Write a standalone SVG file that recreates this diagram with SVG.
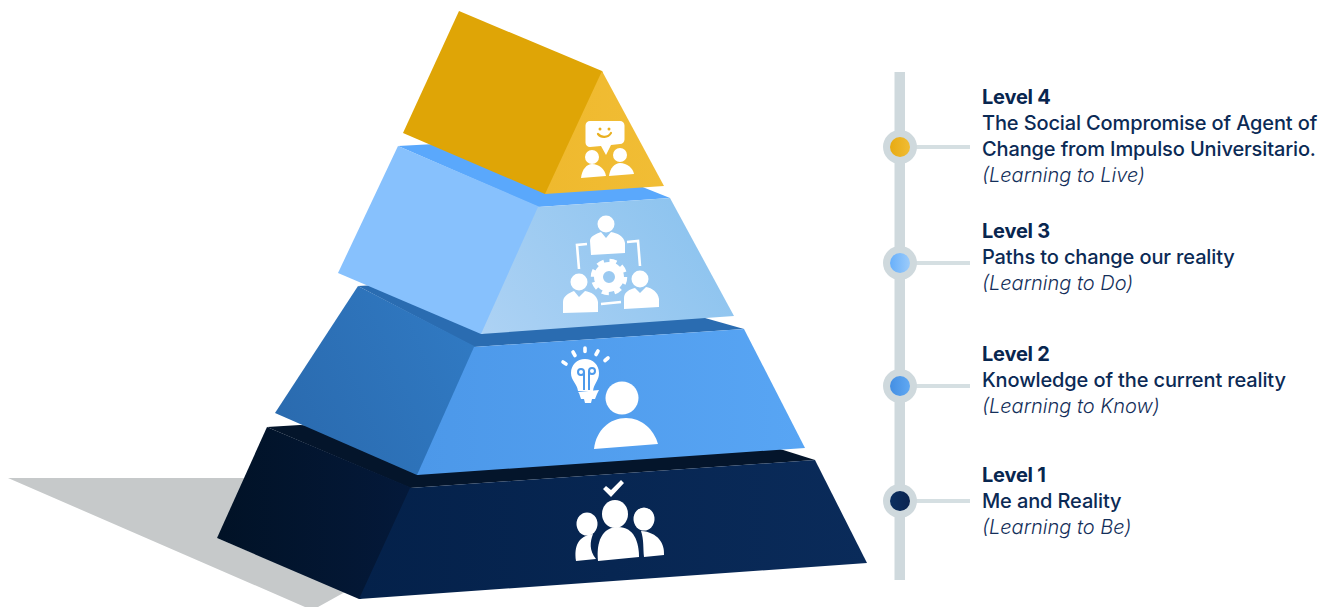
<svg xmlns="http://www.w3.org/2000/svg" width="1328" height="607" viewBox="0 0 1328 607">
<style>
.t{font-family:Inter,"Liberation Sans",sans-serif;fill:#0b2a55}
.h{font-size:20px;font-weight:700;fill:#08264f;letter-spacing:-0.2px}
.b{font-size:20px;font-weight:450;letter-spacing:-0.13px}
.i{font-size:20px;font-style:italic;font-weight:300;fill:#142f5a}
.w{fill:#fff}
.stem{stroke:#d5dfe2;stroke-width:4;fill:none}
.ring{fill:#cfd9dd}
</style>
<defs>
<linearGradient id="g4" x1="0" x2="1"><stop offset="0" stop-color="#efb92e"/><stop offset="1" stop-color="#f1bd35"/></linearGradient>
<linearGradient id="g3" x1="0" y1="1" x2="1" y2="0.6"><stop offset="0" stop-color="#add2f4"/><stop offset="1" stop-color="#8ec4ef"/></linearGradient>
<linearGradient id="g2" x1="0" x2="1"><stop offset="0" stop-color="#4c98e9"/><stop offset="1" stop-color="#58a5f4"/></linearGradient>
<linearGradient id="g2l" x1="0" y1="0.8" x2="1" y2="0.4"><stop offset="0" stop-color="#2a6aae"/><stop offset="1" stop-color="#3079c2"/></linearGradient>
<linearGradient id="g1" x1="0" x2="1"><stop offset="0" stop-color="#04214a"/><stop offset="1" stop-color="#0a2b5a"/></linearGradient>
<linearGradient id="g1l" x1="0" x2="1"><stop offset="0" stop-color="#011226"/><stop offset="1" stop-color="#04193a"/></linearGradient>
<linearGradient id="d4" x1="0" x2="1"><stop offset="0" stop-color="#e8ab12"/><stop offset="1" stop-color="#f0bc35"/></linearGradient>
<linearGradient id="d3" x1="0" x2="1"><stop offset="0" stop-color="#68b0fb"/><stop offset="1" stop-color="#9ccbfa"/></linearGradient>
<linearGradient id="d2" x1="0" x2="1"><stop offset="0" stop-color="#448fe3"/><stop offset="1" stop-color="#60a8f2"/></linearGradient>
<linearGradient id="d1" x1="0" x2="1"><stop offset="0" stop-color="#0b2f60"/><stop offset="1" stop-color="#0b2450"/></linearGradient>
</defs>
<g id="shadow"><polygon points="8,478 255,478 217,538 345,592 318,607 305,607" fill="#c6c9ca"/></g>

<g id="pyramid-level-1">
<polygon points="267,427 300,425 780,449 815,460 410,488" fill="#04152b"/>
<polygon points="267,427 412,488 361,599 359,599 217,538" fill="url(#g1l)"/>
<polygon points="410,488 815,460 867,563 359,599" fill="url(#g1)"/>
<path class="w" d="M603,489l3-3 5,4 10-10 3,3-13,14z"/>
<ellipse class="w" cx="615" cy="514" rx="13" ry="14"/>
<path class="w" d="M598,561C596,542 602,527 618,527C634,527 639,542 639,557z"/>
<ellipse class="w" cx="587" cy="524" rx="10.500" ry="11.500"/>
<path class="w" d="M576,561C574,546 578,536 593,534C590,542 589,550 596,559z"/>
<ellipse class="w" cx="644" cy="519" rx="10.500" ry="11.500"/>
<path class="w" d="M641,531C658,532 665,544 664,555L644,557C643,548 644,540 641,531z"/>
</g>

<g id="pyramid-level-2">
<polygon points="358,286 395,284 705,318 744,329 474,347" fill="#2a6cb1"/>
<polygon points="358,286 476,347 419,475 417,475 275,413" fill="url(#g2l)"/>
<polygon points="474,347 744,329 805,448 417,475" fill="url(#g2)"/>
<path class="w" d="M585,359c8,0 14,6 14,14c0,8-5,10-6,18h-15c-1-8-7-10-7-18c0-8 6-14 14-14z"/>
<path class="w" d="M578,392l21-2-2,4-2,5-3,0-1,4-6,0-1-4-3,0-2-6z"/>
<g fill="none" stroke="#4d9aeb" stroke-width="2"><circle cx="581" cy="372" r="3"/><circle cx="592" cy="371" r="3"/><path d="M584,372v18M589,371v19"/></g>
<g stroke="#fff" stroke-width="3.600" stroke-linecap="round" fill="none"><path d="M563,362l3,2M573,352l2,3.500M585,348v3.500M598,351l-2,3.500M608,358l-3,2.500"/></g>
<circle class="w" cx="622" cy="398" r="16.500"/>
<path class="w" d="M594,449C596,430 610,418 626,418C642,418 654,430 658,444z"/>
</g>

<g id="pyramid-level-3">
<polygon points="398,146 435,144 640,186 670,198 538,207" fill="#5aa8fc"/>
<polygon points="398,146 540,207 483,334 481,334 338,273" fill="#87c1fd"/>
<polygon points="538,207 670,198 734,316 481,334" fill="url(#g3)"/>
<circle class="w" cx="606" cy="224" r="8.500"/>
<path class="w" d="M591,255l-1-14c0-5 6-7 11-9l5,6 5-6c6,1 13,4 14,11l0,10z"/>
<circle class="w" cx="579" cy="282" r="8.500"/>
<path class="w" d="M563,313l0-11c0-6 6-9 11-11l5,6 6-6c6,1 12,4 13,11l0,10z"/>
<circle class="w" cx="640" cy="279" r="8.500"/>
<path class="w" d="M624,309l0-11c0-6 6-9 11-10l5,5 6-6c6,1 12,5 13,12l0,8z"/>
<path d="M587,244l-10,1 2,24M627,242l11-1 2,25M601,304l20-2" fill="none" stroke="#fff" stroke-width="2.600"/>
<circle cx="609" cy="277" r="10.500" fill="none" stroke="#fff" stroke-width="9"/>
<circle cx="609" cy="277" r="16" fill="none" stroke="#fff" stroke-width="4.500" stroke-dasharray="7 5.570"/>
</g>

<g id="pyramid-level-4">
<polygon points="459,11 602,71 603,73 547,194 545,194 403,133" fill="#dfa506"/>
<polygon points="602,71 664,186 545,194" fill="url(#g4)"/>
<path class="w" d="M590,121h30a4.500,4.500 0 0 1 4.500,4.500v14a4.500,4.500 0 0 1-4.500,4.500l-9,1-5,10-5-9-11,1a4.500,4.500 0 0 1-4.500-4.500v-17a4.500,4.500 0 0 1 4.500-4.500z"/>
<circle cx="600" cy="129" r="1.500" fill="#e9b020"/><circle cx="609" cy="129" r="1.500" fill="#e9b020"/>
<path d="M598,134c3,4 10,4 13-1" fill="none" stroke="#e9b020" stroke-width="2.200" stroke-linecap="round"/>
<circle class="w" cx="592" cy="157" r="7"/>
<path class="w" d="M581,178c1-9 6-14 11-14c7,0 13,5 14,12z"/>
<circle class="w" cx="620" cy="155" r="7"/>
<path class="w" d="M609,176c1-8 6-13 11-13c7,0 13,5 14,11z"/>
</g>

<g id="connectors">
<rect x="894.500" y="72" width="10.500" height="508" fill="#cfd9dd"/>
<path class="stem" d="M916,147H970M916,263H970M916,386H970M916,501H970"/>
</g>

<g id="level-4">
<circle class="ring" cx="900" cy="147" r="17"/><circle cx="900" cy="147" r="10" fill="url(#d4)"/>
<text class="t h" x="982" y="104">Level 4</text>
<text class="t b" x="982" y="130">The Social Compromise of Agent of</text>
<text class="t b" x="982" y="156">Change from Impulso Universitario.</text>
<text class="t i" x="982" y="182">(Learning to Live)</text>
</g>
<g id="level-3">
<circle class="ring" cx="900" cy="263" r="17"/><circle cx="900" cy="263" r="10" fill="url(#d3)"/>
<text class="t h" x="982" y="238">Level 3</text>
<text class="t b" x="982" y="264">Paths to change our reality</text>
<text class="t i" x="982" y="290">(Learning to Do)</text>
</g>
<g id="level-2">
<circle class="ring" cx="900" cy="386" r="17"/><circle cx="900" cy="386" r="10" fill="url(#d2)"/>
<text class="t h" x="982" y="361">Level 2</text>
<text class="t b" x="982" y="387">Knowledge of the current reality</text>
<text class="t i" x="982" y="413">(Learning to Know)</text>
</g>
<g id="level-1">
<circle class="ring" cx="900" cy="501" r="17"/><circle cx="900" cy="501" r="10" fill="url(#d1)"/>
<text class="t h" x="982" y="482">Level 1</text>
<text class="t b" x="982" y="508">Me and Reality</text>
<text class="t i" x="982" y="534">(Learning to Be)</text>
</g>
</svg>
